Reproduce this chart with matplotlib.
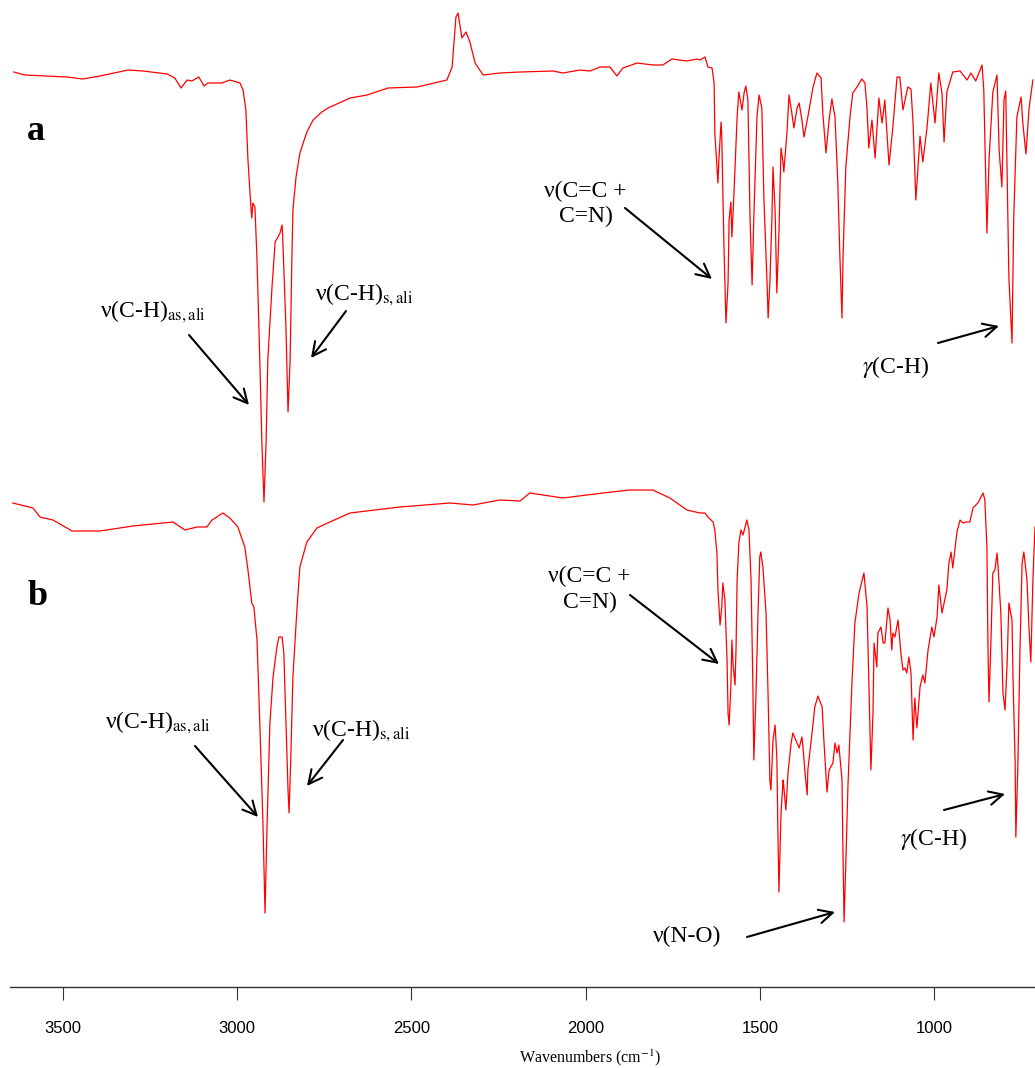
import matplotlib.pyplot as plt

plt.rcParams['font.family'] = ['Liberation Serif', 'DejaVu Serif']
plt.rcParams['mathtext.fontset'] = 'stix'

# Espectro a (numero de onda en cm-1, transmitancia en unidades arbitrarias)
wn_a = [3641, 3609, 3489, 3443, 3394, 3313, 3270, 3201, 3179, 3161, 3144, 3130,
        3110, 3095, 3084, 3064, 3044, 3021, 2992, 2983, 2975, 2969, 2960, 2958,
        2955, 2949, 2943, 2935, 2929, 2923, 2917, 2912, 2900, 2891, 2883, 2877,
        2871, 2869, 2860, 2854, 2848, 2843, 2840, 2831, 2820, 2800, 2782, 2757,
        2739, 2676, 2627, 2567, 2484, 2398, 2383, 2372, 2366, 2355, 2343, 2332,
        2317, 2294, 2246, 2188, 2094, 2065, 2016, 1987, 1959, 1930, 1910, 1893,
        1852, 1807, 1778, 1752, 1709, 1680,
        1672, 1657, 1649, 1637, 1631, 1629, 1623, 1620, 1617, 1611, 1609, 1603,
        1597, 1591, 1588, 1583, 1580, 1574, 1565, 1560, 1551, 1545, 1540, 1534,
        1528, 1522, 1517, 1508, 1502, 1494, 1488, 1479, 1476, 1471, 1465, 1462,
        1456, 1451, 1445, 1439, 1433, 1431, 1422, 1416, 1408, 1402, 1393, 1387,
        1379, 1373, 1362, 1347, 1336, 1324, 1319, 1310, 1301, 1293, 1284, 1276,
        1270, 1264, 1261, 1253, 1241, 1233, 1221, 1207, 1198, 1192, 1187, 1178,
        1169, 1158, 1149, 1141, 1129, 1118, 1106, 1098, 1089, 1075, 1066, 1060,
        1052, 1040, 1032, 1020, 1009, 997, 986, 977, 971, 963, 946, 925,
        905, 894, 880, 862, 857, 848, 842, 831, 819, 813, 805, 799,
        794, 785, 776, 771, 762, 750, 745, 736, 727, 716]
t_a = [928, 925, 923, 921, 924, 930, 929, 926, 922, 912, 920, 919,
       923, 914, 917, 917, 917, 920, 917, 910, 890, 840, 790, 782,
       797, 793, 740, 640, 557, 498, 557, 640, 713, 758, 763, 767,
       775, 760, 673, 588, 640, 740, 790, 823, 847, 868, 880, 888,
       892, 902, 905, 912, 913, 920, 933, 983, 987, 962, 968, 958,
       937, 925, 927, 928, 929, 927, 930, 929, 933, 933, 924, 932,
       937, 935, 935, 941, 939, 941,
       940, 943, 933, 932, 917, 867, 833, 817, 843, 878, 863, 757,
       677, 717, 780, 798, 763, 807, 883, 908, 890, 907, 914, 900,
       783, 715, 783, 883, 905, 892, 800, 717, 682, 717, 783, 833,
       790, 707, 767, 852, 837, 828, 867, 905, 887, 872, 892, 897,
       880, 863, 883, 913, 927, 922, 887, 847, 880, 901, 883, 817,
       743, 682, 743, 833, 883, 907, 913, 921, 917, 890, 852, 880,
       842, 902, 877, 900, 835, 873, 923, 923, 890, 913, 911, 877,
       800, 864, 838, 872, 917, 877, 927, 907, 858, 908, 928, 929,
       920, 927, 919, 935, 910, 767, 840, 908, 925, 850, 813, 900,
       909, 723, 657, 783, 883, 903, 877, 846, 892, 920]

# Espectro b
wn_b = [3644, 3586, 3566, 3529, 3474, 3394, 3299, 3184, 3150, 3115, 3087, 3072,
        3041, 3021, 2998, 2978, 2969, 2958, 2952, 2943, 2935, 2926, 2920, 2914,
        2906, 2897, 2886, 2880, 2871, 2866, 2860, 2854, 2851, 2846, 2840, 2828,
        2820, 2800, 2771, 2734, 2676, 2533, 2389, 2323, 2246, 2188, 2160, 2065,
        1950, 1873, 1807, 1758, 1709,
        1672, 1657, 1649, 1634, 1629, 1623, 1620, 1614, 1609, 1606, 1600, 1594,
        1591, 1588, 1583, 1580, 1577, 1571, 1568, 1565, 1560, 1554, 1548, 1542,
        1537, 1531, 1525, 1520, 1517, 1511, 1505, 1500, 1497, 1491, 1482, 1476,
        1471, 1468, 1462, 1456, 1451, 1448, 1445, 1439, 1433, 1431, 1425, 1419,
        1410, 1405, 1399, 1393, 1387, 1379, 1376, 1370, 1364, 1362, 1350, 1342,
        1333, 1321, 1316, 1307, 1301, 1290, 1284, 1278, 1273, 1264, 1261, 1258,
        1253, 1247, 1235, 1227, 1215, 1201, 1192, 1187, 1181, 1175, 1172, 1164,
        1161, 1152, 1146, 1141, 1132, 1126, 1121, 1118, 1112, 1103, 1095, 1089,
        1083, 1078, 1072, 1066, 1060, 1055, 1049, 1040, 1032, 1026, 1017, 1006,
        1000, 991, 986, 977, 971, 963, 957, 951, 946, 934, 925, 917,
        908, 897, 888, 874, 859, 854, 848, 845, 842, 837, 831, 825,
        819, 816, 808, 802, 796, 790, 785, 776, 773, 767, 765, 759,
        753, 747, 742, 733, 727, 722, 716, 710]
t_b = [497, 492, 483, 480, 469, 469, 474, 478, 470, 473, 473, 480,
       487, 482, 473, 453, 430, 397, 393, 360, 277, 177, 87, 177,
       277, 323, 353, 363, 363, 347, 277, 210, 187, 243, 323, 393,
       433, 458, 472, 478, 487, 493, 497, 495, 500, 499, 507, 502,
       507, 510, 510, 502, 490,
       487, 487, 483, 478, 470, 447, 410, 375, 393, 417, 400, 340,
       287, 275, 313, 360, 337, 315, 353, 420, 457, 470, 465, 473,
       480, 470, 420, 320, 240, 303, 387, 443, 448, 433, 387, 303,
       220, 210, 260, 275, 243, 170, 108, 187, 220, 213, 190, 227,
       257, 267, 262, 257, 252, 263, 253, 227, 205, 230, 267, 293,
       304, 293, 260, 208, 230, 237, 257, 247, 255, 220, 143, 78,
       137, 213, 320, 377, 407, 427, 393, 320, 230, 287, 357, 333,
       367, 373, 357, 357, 392, 380, 350, 367, 363, 380, 347, 330,
       332, 327, 343, 327, 260, 302, 272, 313, 325, 317, 350, 373,
       363, 383, 415, 387, 397, 410, 437, 448, 432, 468, 480, 477,
       478, 478, 492, 497, 507, 500, 453, 353, 298, 353, 427, 430,
       447, 433, 387, 307, 290, 337, 397, 380, 320, 237, 163, 237,
       353, 437, 448, 420, 370, 338, 420, 473]

ticks = [3500, 3000, 2500, 2000, 1500, 1000]

W, H = 1035, 1068


def fp(x, y):
    # pixel de la imagen (origen arriba a la izquierda) -> fraccion de figura
    return (x / W, 1 - y / H)


fig = plt.figure(figsize=(W / 100, H / 100), dpi=100)
ax = fig.add_axes([10 / W, 1 - 987 / H, (W - 10) / W, 987 / H])

ax.plot(wn_a, t_a, color='#ff0000', lw=0.9)
ax.plot(wn_b, t_b, color='#ff0000', lw=0.9)

ax.set_xlim(3652, 710)
ax.set_ylim(13, 1000)
for s in ['top', 'left', 'right']:
    ax.spines[s].set_visible(False)
ax.spines['bottom'].set_linewidth(1.0)
ax.spines['bottom'].set_color('#333333')
ax.set_yticks([])
ax.set_xticks(ticks)
ax.set_xticklabels([str(t) for t in ticks], family='Liberation Sans', fontsize=12)
ax.tick_params(axis='x', direction='out', length=9.5, width=0.8,
               color='#333333', pad=15)

fig.text(*fp(590, 1058), 'Wavenumbers (cm$^{-1}$)', ha='center', va='center',
         fontsize=11.5)

# etiquetas de panel
fig.text(*fp(27, 140), 'a', fontsize=26, fontweight='bold', va='baseline')
fig.text(*fp(28, 605), 'b', fontsize=26, fontweight='bold', va='baseline')

fs = 17
textos = [
    (100, 317, 'left', r'ν(C-H)$_{\mathrm{as,ali}}$'),
    (315, 300, 'left', r'ν(C-H)$_{\mathrm{s,ali}}$'),
    (585, 197, 'center', 'ν(C=C +'),
    (586, 222, 'center', 'C=N)'),
    (862, 373, 'left', r'$\gamma$(C-H)'),
    (105, 728, 'left', r'ν(C-H)$_{\mathrm{as,ali}}$'),
    (312, 736, 'left', r'ν(C-H)$_{\mathrm{s,ali}}$'),
    (589, 582, 'center', 'ν(C=C +'),
    (590, 608, 'center', 'C=N)'),
    (900, 845, 'left', r'$\gamma$(C-H)'),
    (653, 942, 'left', 'ν(N-O)'),
]
for x, y, ha, s in textos:
    fig.text(*fp(x, y), s, ha=ha, va='baseline', fontsize=fs)

flechas = [
    ((189, 335), (249, 405)),
    ((346, 311), (311, 358)),
    ((625, 208), (712, 279)),
    ((938, 343), (999, 326)),
    ((195, 746), (258, 817)),
    ((343, 740), (307, 786)),
    ((630, 595), (719, 664)),
    ((944, 810), (1005, 794)),
    ((747, 937), (835, 912)),
]
for (x0, y0), (x1, y1) in flechas:
    ax.annotate('', xy=fp(x1, y1), xytext=fp(x0, y0),
                xycoords='figure fraction', textcoords='figure fraction',
                arrowprops=dict(arrowstyle='->,head_length=0.7,head_width=0.35',
                                color='black', lw=1.5, mutation_scale=14,
                                shrinkA=0, shrinkB=0))

fig.savefig('out.png', dpi=100)
